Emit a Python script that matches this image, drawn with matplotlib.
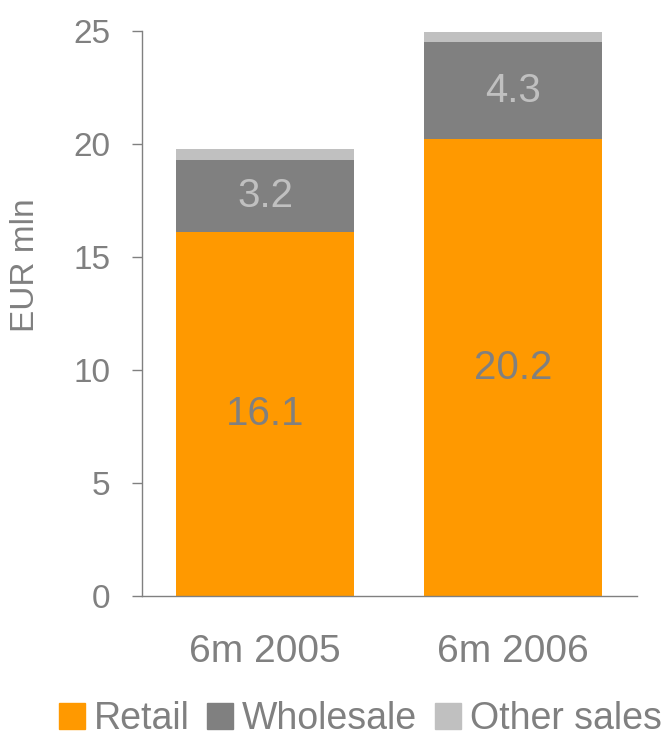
import numpy as np
import matplotlib.pyplot as plt
from matplotlib.patches import Patch

plt.rcParams['font.family'] = ['Liberation Sans', 'DejaVu Sans']

# Half-year sales, EUR mln
periods = ['6m 2005', '6m 2006']
retail = [16.1, 20.2]
wholesale = [3.2, 4.3]
other_sales = [0.5, 0.45]

orange = '#FF9900'
dark_grey = '#808080'
light_grey = '#C0C0C0'
text_grey = '#808080'

fig = plt.figure(figsize=(6.67, 7.38), dpi=100)
ax = fig.add_axes([0.213, 0.1924, 0.742, 0.7656])

x = np.arange(len(periods))
width = 0.718
retail = np.array(retail)
wholesale = np.array(wholesale)
other_sales = np.array(other_sales)

ax.bar(x, retail, width, color=orange)
ax.bar(x, wholesale, width, bottom=retail, color=dark_grey)
ax.bar(x, other_sales, width, bottom=retail + wholesale, color=light_grey)

# value labels in the middle of the retail and wholesale segments
for i in range(len(periods)):
    ax.text(x[i], retail[i] / 2, f'{retail[i]:.1f}', ha='center', va='center',
            fontsize=29, color=text_grey)
    ax.text(x[i], retail[i] + wholesale[i] / 2, f'{wholesale[i]:.1f}',
            ha='center', va='center', fontsize=29, color=light_grey)

ax.set_xlim(-0.496, 1.5)
ax.set_ylim(0, 25)
ax.set_yticks([0, 5, 10, 15, 20, 25])
ax.set_xticks(x)
ax.set_xticklabels(periods)

for side in ['top', 'right']:
    ax.spines[side].set_visible(False)
for side in ['left', 'bottom']:
    ax.spines[side].set_color(dark_grey)
    ax.spines[side].set_linewidth(1)

ax.tick_params(axis='y', direction='out', length=7, width=1, color=dark_grey,
               labelsize=24, labelcolor=text_grey, pad=16)
ax.tick_params(axis='x', length=0, labelsize=28, labelcolor=text_grey, pad=27)

ax.set_ylabel('EUR mln', fontsize=24, color=text_grey)
ax.yaxis.set_label_coords(-0.205, 0.585)

handles = [Patch(color=orange, label='Retail'),
           Patch(color=dark_grey, label='Wholesale'),
           Patch(color=light_grey, label='Other sales')]
fig.legend(handles=handles, loc='center', bbox_to_anchor=(0.54, 0.026),
           ncol=3, frameon=False, fontsize=27, labelcolor=text_grey,
           handlelength=0.69, handleheight=0.69, handletextpad=0.24,
           columnspacing=0.47, borderaxespad=0, borderpad=0)

fig.savefig('out.png', dpi=100)
